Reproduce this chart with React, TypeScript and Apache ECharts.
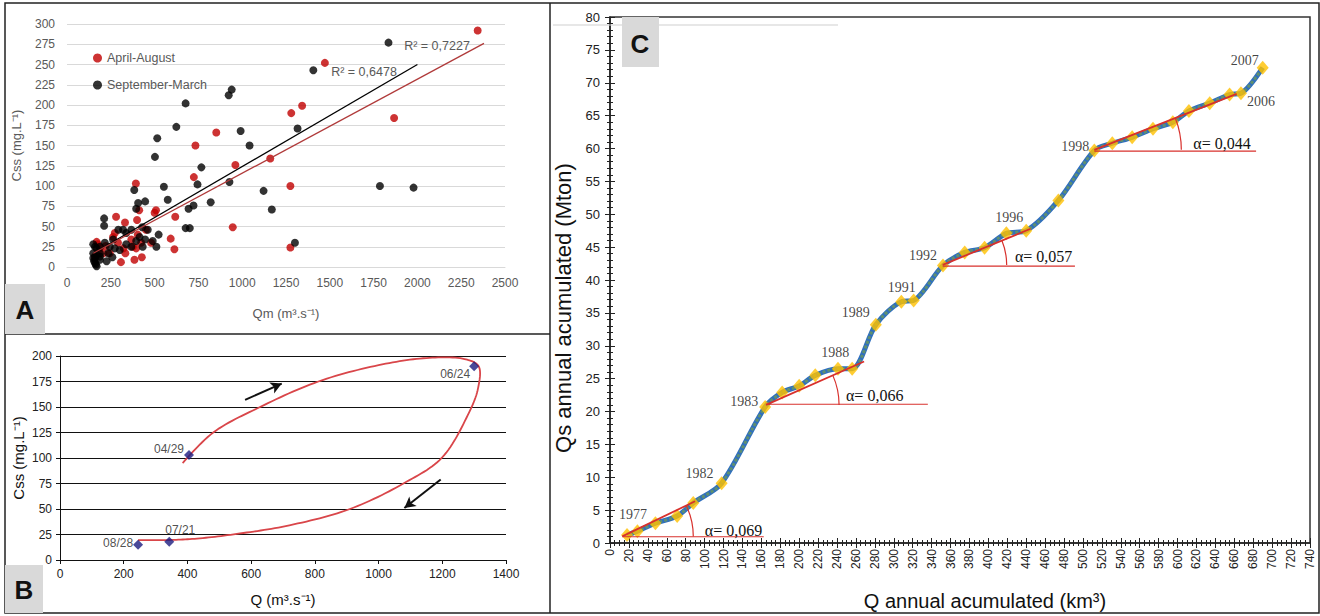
import React, { useEffect, useRef } from 'react';
import * as echarts from 'echarts';

// ---------- Panel A : Css vs Qm scatter ----------
const aprilAugust: number[][] = [
  [2344, 292], [1472, 252], [1342, 199], [1280, 190], [1867, 184], [852, 166], [733, 150], [961, 126],
  [1160, 134], [724, 111], [1275, 100], [393, 103], [946, 49], [1275, 24], [500, 67], [508, 70],
  [280, 62], [331, 55], [412, 70], [400, 58], [618, 62], [592, 35], [613, 22], [427, 12], [385, 9],
  [308, 6], [169, 31], [273, 42], [263, 37], [323, 23], [333, 17], [376, 25], [395, 23], [423, 30],
  [480, 30], [188, 23], [207, 17], [451, 46], [291, 30], [244, 17], [367, 34], [160, 13], [404, 40],
  [175, 28], [220, 26]
];
const septemberMarch: number[][] = [
  [1835, 277], [1406, 243], [923, 212], [940, 219], [677, 202], [624, 173], [515, 159], [502, 136],
  [991, 168], [1042, 150], [1316, 171], [767, 123], [745, 102], [553, 99], [575, 83], [820, 80],
  [927, 105], [1122, 94], [1169, 71], [1786, 100], [1978, 98], [1301, 30], [677, 48], [701, 48],
  [694, 72], [722, 76], [384, 95], [406, 79], [446, 81], [395, 72], [523, 40], [510, 25], [489, 32],
  [461, 46], [429, 49], [367, 46], [320, 46], [293, 46], [212, 60], [212, 51], [263, 34], [244, 25],
  [216, 30], [188, 25], [160, 25], [150, 17], [150, 11], [160, 5], [169, 1], [188, 9], [226, 7],
  [259, 12], [169, 15], [188, 17], [301, 21], [338, 28], [367, 25], [395, 32], [414, 37], [432, 25],
  [273, 23], [235, 17], [150, 28], [169, 23], [188, 13], [155, 7], [160, 11], [165, 3], [338, 42],
  [446, 34]
];
const trendSeptemberMarch: number[][] = [[150, 17], [2000, 250]];
const trendAprilAugust: number[][] = [[150, 17], [2380, 276]];
const r2Texts = ['R² = 0,7227', 'R² = 0,6478'];

// ---------- Panel B : hysteresis loop ----------
const hysteresisLoop: number[][] = [
  [385, 95], [481, 125], [628, 150], [811, 175], [1000, 191], [1150, 198], [1270, 197],
  [1314, 190], [1312, 168], [1280, 142], [1198, 100], [1078, 75], [910, 50], [720, 34],
  [565, 26], [430, 21], [330, 19.5], [245, 19.5]
];
const sampleDates = ['04/29', '06/24', '07/21', '08/28'];
const sampleQ = [405, 1300, 343, 245];
const sampleCss = [103, 190, 18, 15];
const arrowRising: number[][] = [[581, 157], [696, 173]];
const arrowFalling: number[][] = [[1195, 79], [1081, 51]];

// ---------- Panel C : double mass curve ----------
const years = [1977, 1978, 1979, 1980, 1981, 1982, 1983, 1984, 1985, 1986, 1987, 1988, 1989, 1990, 1991,
  1992, 1993, 1994, 1995, 1996, 1997, 1998, 1999, 2000, 2001, 2002, 2003, 2004, 2005, 2006, 2007];
const qAccum = [18, 29, 48, 71, 88, 118, 164, 182, 200, 217, 241, 256, 281, 308, 321, 352, 375, 396, 419,
  440, 474, 512, 531, 552, 574, 595, 612, 634, 655, 667, 690];
const qsAccum = [1.2, 1.8, 3.0, 4.1, 6.1, 9.1, 20.7, 22.9, 23.9, 25.5, 26.5, 26.5, 33.2, 36.7, 36.9, 42.2,
  44.2, 44.9, 47.1, 47.5, 52.1, 59.7, 60.8, 61.7, 63.0, 64.0, 65.7, 66.9, 68.2, 68.4, 72.3];
const labelledYears = [1977, 1982, 1983, 1988, 1989, 1991, 1992, 1996, 1998, 2006, 2007];
const fitStart: number[][] = [[13, 1.0], [165, 21.0], [351.7, 42.3], [512, 59.8]];
const fitEnd: number[][] = [[90, 6.35], [268.6, 27.6], [444.7, 47.8], [662.5, 68.3]];
const baseLevel = [0.95, 21.1, 42.1, 59.6];
const baseEnd = [162.5, 336, 491.5, 683];
const alphaTexts = ['α= 0,069', 'α= 0,066', 'α= 0,057', 'α= 0,044'];
const alphaLabelAt: number[][] = [[130.5, 1.9], [279.8, 22.5], [458.4, 43.5], [647, 60.7]];

// centripetal Catmull-Rom through pixel points
function catmullRom(pts: number[][], steps: number): number[][] {
  const out: number[][] = [];
  const n = pts.length;
  for (let i = 0; i < n - 1; i++) {
    const p0 = pts[Math.max(i - 1, 0)];
    const p1 = pts[i];
    const p2 = pts[i + 1];
    const p3 = pts[Math.min(i + 2, n - 1)];
    const d = (a: number[], b: number[]) => Math.max(Math.pow(Math.hypot(b[0] - a[0], b[1] - a[1]), 0.5), 1e-4);
    const t0 = 0;
    const t1 = t0 + (p0 === p1 ? 1e-4 : d(p0, p1));
    const t2 = t1 + d(p1, p2);
    const t3 = t2 + (p2 === p3 ? 1e-4 : d(p2, p3));
    for (let s = 0; s < steps; s++) {
      const t = t1 + ((t2 - t1) * s) / steps;
      const lerp = (a: number[], b: number[], ta: number, tb: number) => {
        const w = (tb - ta) === 0 ? 0 : (t - ta) / (tb - ta);
        return [a[0] + (b[0] - a[0]) * w, a[1] + (b[1] - a[1]) * w];
      };
      const a1 = lerp(p0, p1, t0, t1);
      const a2 = lerp(p1, p2, t1, t2);
      const a3 = lerp(p2, p3, t2, t3);
      const b1 = lerp(a1, a2, t0, t2);
      const b2 = lerp(a2, a3, t1, t3);
      out.push(lerp(b1, b2, t1, t2));
    }
  }
  out.push(pts[n - 1]);
  return out;
}

export default function App() {
  const ref = useRef<HTMLDivElement>(null);
  useEffect(() => {
    const chart = echarts.init(ref.current!, undefined, { renderer: 'svg' });

    const yearOffsets: Record<number, number[]> = {
      1977: [6, -21], 1982: [-22, -10], 1983: [-21, -5], 1988: [-17, -16], 1989: [-20, -12],
      1991: [-12, -13], 1992: [-20, -10], 1996: [-17, -13], 1998: [-19, -4], 2006: [20, 8], 2007: [-18, -7]
    };
    const arcRadius = [71, 73, 64, 87];
    const sampleOffsets = [[-20, -6], [-19, 8], [11, -12], [-20, -2]];
    const serifFont = 'Liberation Serif';
    const sansFont = 'Liberation Sans';
    const red = '#d8302c';
    const plain = (v: number) => String(v);

    const cData = years.map((y, i) => {
      const item: any = { value: [qAccum[i], qsAccum[i]] };
      if (labelledYears.includes(y)) {
        item.label = {
          show: true, position: 'inside', formatter: String(y), offset: yearOffsets[y],
          color: '#111', fontFamily: serifFont, fontSize: 14
        };
      }
      return item;
    });

    const fitSeries: any[] = [];
    fitStart.forEach((s, i) => {
      fitSeries.push({
        type: 'line', xAxisIndex: 2, yAxisIndex: 2, data: [s, fitEnd[i]], symbol: 'none', z: 6,
        lineStyle: { color: red, width: 1.8 }, silent: true
      });
      fitSeries.push({
        type: 'line', xAxisIndex: 2, yAxisIndex: 2, data: [[s[0], baseLevel[i]], [baseEnd[i], baseLevel[i]]],
        symbol: 'none', z: 6, lineStyle: { color: red, width: 1.2 }, silent: true
      });
    });

    const axisDark = { lineStyle: { color: '#222', width: 1.5 } };

    const option: any = {
      animation: false,
      backgroundColor: '#fff',
      textStyle: { fontFamily: sansFont },
      grid: [
        { left: 67, top: 24, width: 438, height: 243 },
        { left: 60, top: 356, width: 446, height: 204 },
        { left: 610, top: 17, width: 700, height: 530, show: true, borderColor: '#333', borderWidth: 1.5 }
      ],
      legend: {
        data: ['April-August', 'September-March'], orient: 'vertical', left: 88, top: 46,
        itemWidth: 9, itemHeight: 9, itemGap: 13, icon: 'circle',
        textStyle: { color: '#595959', fontSize: 12.5, lineHeight: 14, fontFamily: sansFont }
      },
      xAxis: [
        {
          gridIndex: 0, type: 'value', min: 0, max: 2500, interval: 250,
          axisLine: { show: true, lineStyle: { color: '#d9d9d9' } }, axisTick: { show: false },
          axisLabel: { color: '#595959', fontSize: 12, margin: 10, formatter: plain }, splitLine: { show: false },
          name: 'Qm (m³.s⁻¹)', nameLocation: 'middle', nameGap: 40,
          nameTextStyle: { color: '#595959', fontSize: 13 }
        },
        {
          gridIndex: 1, type: 'value', min: 0, max: 1400, interval: 200,
          axisLine: { show: true, lineStyle: { color: '#111' } },
          axisTick: { show: true, length: 4, lineStyle: { color: '#111' } },
          axisLabel: { color: '#222', fontSize: 12, margin: 8, formatter: plain }, splitLine: { show: false },
          name: 'Q (m³.s⁻¹)', nameLocation: 'middle', nameGap: 32,
          nameTextStyle: { color: '#111', fontSize: 15 }
        },
        {
          gridIndex: 2, type: 'value', min: 0, max: 740, interval: 20, position: 'bottom',
          axisLine: { show: true, ...axisDark },
          axisTick: { show: true, length: 5, lineStyle: { color: '#222' } },
          minorTick: { show: true, splitNumber: 4, length: 3, lineStyle: { color: '#222' } },
          axisLabel: { rotate: 90, fontSize: 12, color: '#222', margin: 6, interval: 0, hideOverlap: false, formatter: plain },
          splitLine: { show: false }, minorSplitLine: { show: false },
          name: 'Q annual acumulated (km³)', nameLocation: 'middle', nameGap: 48,
          nameTextStyle: { color: '#111', fontSize: 20, padding: [0, 0, 0, 50] }
        },
        {
          gridIndex: 2, type: 'value', min: 0, max: 740, interval: 20, position: 'bottom',
          axisLine: { show: false }, axisLabel: { show: false },
          axisTick: { show: true, inside: true, length: 5, lineStyle: { color: '#222' } },
          minorTick: { show: true, splitNumber: 4, length: 3, lineStyle: { color: '#222' } },
          splitLine: { show: false }
        }
      ],
      yAxis: [
        {
          gridIndex: 0, type: 'value', min: 0, max: 300, interval: 25,
          axisLine: { show: false }, axisTick: { show: false },
          axisLabel: { color: '#595959', fontSize: 12, margin: 12, formatter: plain },
          splitLine: { show: true, lineStyle: { color: '#d9d9d9' } },
          name: 'Css (mg.L⁻¹)', nameLocation: 'middle', nameGap: 44,
          nameTextStyle: { color: '#595959', fontSize: 13 }
        },
        {
          gridIndex: 1, type: 'value', min: 0, max: 200, interval: 25,
          axisLine: { show: true, lineStyle: { color: '#111' } },
          axisTick: { show: true, length: 4, lineStyle: { color: '#111' } },
          axisLabel: { color: '#222', fontSize: 12, margin: 8, formatter: plain },
          splitLine: { show: true, lineStyle: { color: '#111', width: 1 } },
          name: 'Css (mg.L⁻¹)', nameLocation: 'middle', nameGap: 34,
          nameTextStyle: { color: '#111', fontSize: 15 }
        },
        {
          gridIndex: 2, type: 'value', min: 0, max: 80, interval: 5, position: 'left',
          axisLine: { show: true, ...axisDark },
          axisTick: { show: true, length: 5, lineStyle: { color: '#222' } },
          minorTick: { show: true, splitNumber: 5, length: 3, lineStyle: { color: '#222' } },
          axisLabel: { color: '#222', fontSize: 13, margin: 10, formatter: plain },
          splitLine: { show: false }, minorSplitLine: { show: false },
          name: 'Qs annual acumulated (Mton)', nameLocation: 'middle', nameGap: 33,
          nameTextStyle: { color: '#111', fontSize: 22, padding: [0, 56, 0, 0] }
        },
        {
          gridIndex: 2, type: 'value', min: 0, max: 80, interval: 5, position: 'left',
          axisLine: { show: false }, axisLabel: { show: false },
          axisTick: { show: true, inside: true, length: 5, lineStyle: { color: '#222' } },
          minorTick: { show: true, splitNumber: 5, length: 3, lineStyle: { color: '#222' } },
          splitLine: { show: false }
        }
      ],
      series: [
        // Panel A
        {
          name: 'April-August', type: 'scatter', xAxisIndex: 0, yAxisIndex: 0, data: aprilAugust,
          symbolSize: 8, itemStyle: { color: '#c00000' }
        },
        {
          name: 'September-March', type: 'scatter', xAxisIndex: 0, yAxisIndex: 0, data: septemberMarch,
          symbolSize: 8, itemStyle: { color: '#000' }
        },
        {
          name: 'Trend September-March', type: 'line', xAxisIndex: 0, yAxisIndex: 0, data: trendSeptemberMarch,
          symbol: 'none', lineStyle: { color: '#000', width: 1.3 }, z: 3
        },
        {
          name: 'Trend April-August', type: 'line', xAxisIndex: 0, yAxisIndex: 0, data: trendAprilAugust,
          symbol: 'none', lineStyle: { color: '#b03a3a', width: 1.3 }, z: 3
        },
        // Panel B
        {
          name: 'Loop', type: 'custom', xAxisIndex: 1, yAxisIndex: 1, data: hysteresisLoop,
          encode: { x: 0, y: 1 }, silent: true, z: 3,
          renderItem: (params: any, api: any) => {
            if (params.dataIndex !== 0) return null;
            const px = hysteresisLoop.map((p) => api.coord(p));
            return {
              type: 'polyline',
              shape: { points: catmullRom(px, 14) },
              style: { stroke: '#d9464a', lineWidth: 1.8, fill: null }
            };
          }
        },
        {
          name: 'Arrows', type: 'line', xAxisIndex: 1, yAxisIndex: 1, data: [], symbol: 'none',
          markLine: {
            silent: true, symbol: ['none', 'arrow'], symbolSize: [9, 11],
            label: { show: false }, lineStyle: { color: '#111', width: 2, type: 'solid' },
            data: [
              [{ coord: arrowRising[0] }, { coord: arrowRising[1] }],
              [{ coord: arrowFalling[0] }, { coord: arrowFalling[1] }]
            ]
          }
        },
        {
          name: 'Samples', type: 'scatter', xAxisIndex: 1, yAxisIndex: 1, symbol: 'diamond', symbolSize: 10,
          itemStyle: { color: '#1c1c80' }, z: 4,
          data: sampleDates.map((d, i) => ({
            value: [sampleQ[i], sampleCss[i]],
            label: {
              show: true, position: 'inside', formatter: d, offset: sampleOffsets[i],
              color: '#222', fontSize: 12, fontFamily: sansFont
            }
          }))
        },
        // Panel C
        {
          name: 'Cumulative', type: 'line', xAxisIndex: 2, yAxisIndex: 2,
          data: qAccum.map((q, i) => [q, qsAccum[i]]), smooth: 0.3, symbol: 'none',
          lineStyle: { color: '#2f6fbf', width: 5 }, z: 2
        },
        {
          name: 'Cumulative dotted', type: 'line', xAxisIndex: 2, yAxisIndex: 2,
          data: qAccum.map((q, i) => [q, qsAccum[i]]), smooth: 0.3, symbol: 'none',
          lineStyle: { color: '#5f9070', width: 3, type: [3, 2] }, z: 3
        },
        {
          name: 'Years', type: 'scatter', xAxisIndex: 2, yAxisIndex: 2, data: cData, symbol: 'diamond',
          symbolSize: [12, 14], itemStyle: { color: '#ffc000' }, z: 4
        },
        ...fitSeries,
        {
          name: 'Angles', type: 'custom', xAxisIndex: 2, yAxisIndex: 2, z: 7, silent: true,
          data: fitStart.map((p) => [p[0], p[1]]), encode: { x: 0, y: 1 },
          renderItem: (params: any, api: any) => {
            const i = params.dataIndex;
            const v = api.coord(fitStart[i]);
            const e = api.coord(fitEnd[i]);
            const ang = Math.atan2(v[1] - e[1], e[0] - v[0]);
            const t = api.coord(alphaLabelAt[i]);
            return {
              type: 'group',
              children: [
                {
                  type: 'arc',
                  shape: { cx: v[0], cy: v[1], r: arcRadius[i], startAngle: -ang, endAngle: 0, clockwise: true },
                  style: { stroke: red, fill: null, lineWidth: 1.2 }
                },
                {
                  type: 'text', x: t[0], y: t[1],
                  style: {
                    text: alphaTexts[i], fill: '#111', font: `16px "${serifFont}"`,
                    align: 'center', verticalAlign: 'middle'
                  }
                }
              ]
            };
          }
        }
      ],
      graphic: [
        { type: 'rect', z: 100, shape: { x: 5, y: 3, width: 1314, height: 610 }, style: { fill: 'none', stroke: '#222', lineWidth: 1.5 } },
        { type: 'line', z: 100, shape: { x1: 5, y1: 334, x2: 550, y2: 334 }, style: { stroke: '#222', lineWidth: 1.5 } },
        { type: 'line', z: 100, shape: { x1: 550, y1: 3, x2: 550, y2: 613 }, style: { stroke: '#222', lineWidth: 1.5 } },
        { type: 'line', z: 100, shape: { x1: 553, y1: 25, x2: 838, y2: 25 }, style: { stroke: '#cfcfcf', lineWidth: 1 } },
        { type: 'rect', z: 100, shape: { x: 5, y: 284, width: 40, height: 50 }, style: { fill: '#d9d9d9' } },
        { type: 'text', z: 101, x: 25, y: 310, style: { text: 'A', font: 'bold 26px "Liberation Sans"', fill: '#111', align: 'center', verticalAlign: 'middle' } },
        { type: 'rect', z: 100, shape: { x: 5, y: 565, width: 38, height: 48 }, style: { fill: '#d9d9d9' } },
        { type: 'text', z: 101, x: 24, y: 590, style: { text: 'B', font: 'bold 26px "Liberation Sans"', fill: '#111', align: 'center', verticalAlign: 'middle' } },
        { type: 'rect', z: 100, shape: { x: 622, y: 17, width: 37, height: 50 }, style: { fill: '#d9d9d9' } },
        { type: 'text', z: 101, x: 640, y: 44, style: { text: 'C', font: 'bold 26px "Liberation Sans"', fill: '#111', align: 'center', verticalAlign: 'middle' } },
        { type: 'text', z: 101, x: 437, y: 46, style: { text: r2Texts[0], font: '12.5px "Liberation Sans"', fill: '#595959', align: 'center', verticalAlign: 'middle' } },
        { type: 'text', z: 101, x: 364, y: 72, style: { text: r2Texts[1], font: '12.5px "Liberation Sans"', fill: '#595959', align: 'center', verticalAlign: 'middle' } }
      ]
    };

    chart.setOption(option);
    return () => chart.dispose();
  }, []);

  return (
    <div
      ref={ref}
      style={{ position: 'fixed', left: 0, top: 0, width: 1320, height: 616, background: '#fff' }}
    />
  );
}
